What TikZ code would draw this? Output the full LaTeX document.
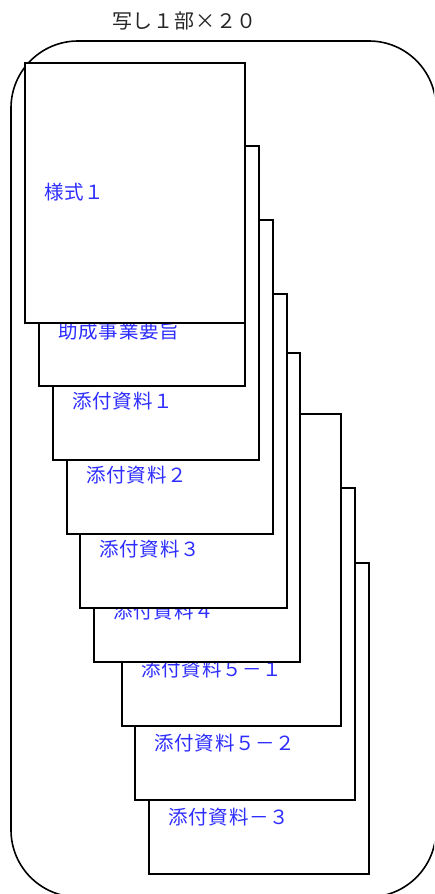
\documentclass[tikz,border=0pt]{standalone}
\usepackage{fontspec}
\newfontfamily\jpfont[LetterSpace=4]{Noto Sans CJK JP}
\definecolor{labelblue}{RGB}{45,45,255}
\begin{document}
\begin{tikzpicture}[x=1pt,y=-1pt,
  sheet/.style={draw=black, fill=white, line width=1.6pt, inner sep=0pt, anchor=north west},
  lbl/.style={anchor=west, inner sep=0pt, text=labelblue, font=\jpfont\fontsize{19.5}{19.5}\selectfont},
  ttl/.style={anchor=west, inner sep=0pt, text=black!85, font=\jpfont\fontsize{20}{20}\selectfont},
  frame/.style={draw=black, line width=1.6pt, rounded corners=67pt}]
\useasboundingbox (0,0) rectangle (434,894);
\clip (0,0) rectangle (434,894);
\node[ttl] (title) at (112,21) {写し１部×２０};
\draw[frame] (11,41) rectangle (436,897);
% bottom of stack first
\node[sheet, minimum width=220pt, minimum height=311pt] (b9) at (148,562) {};
\node[lbl] (t9) at (168,817) {添付資料－３};
\node[sheet, minimum width=220pt, minimum height=312pt] (b8) at (134,487) {};
\node[lbl] (t8) at (154,743) {添付資料５－２};
\node[sheet, minimum width=219pt, minimum height=312pt] (b7) at (121,413) {};
\node[lbl] (t7) at (141,669) {添付資料５－１};
\node[sheet, minimum width=206pt, minimum height=309pt] (b6) at (93,352) {};
\node[lbl] (t6) at (113,611) {添付資料４};
\node[sheet, minimum width=207pt, minimum height=314pt] (b5) at (79,293) {};
\node[lbl] (t5) at (99,549) {添付資料３};
\node[sheet, minimum width=206pt, minimum height=314pt] (b4) at (66,219) {};
\node[lbl] (t4) at (86,475) {添付資料２};
\node[sheet, minimum width=206pt, minimum height=314pt] (b3) at (52,145) {};
\node[lbl] (t3) at (72,401) {添付資料１};
\node[sheet, minimum width=206pt, minimum height=312pt] (b2) at (38,73) {};
\node[lbl] (t2) at (58,331) {助成事業要旨};
\node[sheet, minimum width=220pt, minimum height=260pt] (b1) at (24,62) {};
\node[lbl] (t1) at (44,192) {様式１};
\end{tikzpicture}
\end{document}
